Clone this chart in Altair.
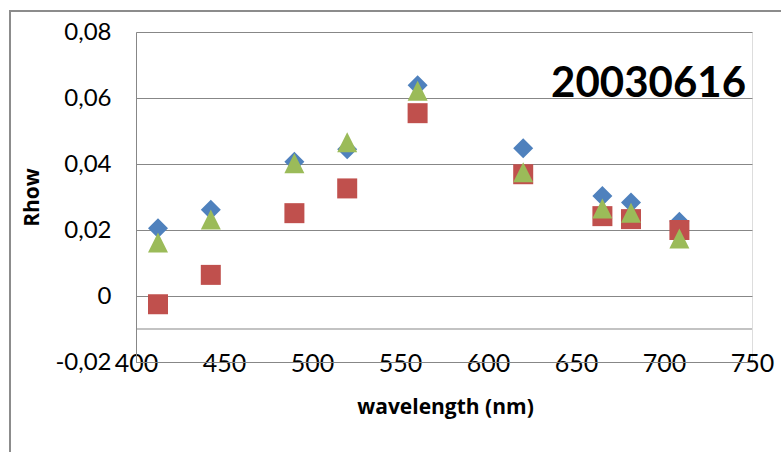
import altair as alt
import pandas as pd

wavelengths = [412.5, 442.5, 490, 520, 560, 620, 665, 681.25, 708.75]
series_a = [0.0205, 0.0261, 0.0407, 0.0445, 0.0639, 0.0448, 0.0303, 0.0283, 0.0225]
series_b = [-0.0025, 0.0064, 0.0251, 0.0326, 0.0554, 0.0369, 0.0242, 0.0233, 0.0200]
series_c = [0.0162, 0.0232, 0.0402, 0.0466, 0.0622, 0.0375, 0.0265, 0.0252, 0.0174]
series_names = ["A", "B", "C"]
series_colors = ["#4F81BD", "#C0504D", "#9BBB59"]
series_shapes = ["diamond", "square", "M0,-1L1,1L-1,1Z"]
y_ticks = [-0.02, 0, 0.02, 0.04, 0.06, 0.08]
x_ticks = [400, 450, 500, 550, 600, 650, 700, 750]
extra_grid = [-0.01]
chart_title = ["20030616"]

rows = []
for name, vals in zip(series_names, [series_a, series_b, series_c]):
    for w, v in zip(wavelengths, vals):
        rows.append({"wl": w, "rhow": v, "series": name})
df = pd.DataFrame(rows)
df["order"] = df["series"].map({n: i for i, n in enumerate(series_names)})

font = "Lato"
tfont = "Open Sans"
grid_color = "#878787"

xscale = alt.Scale(domain=[400, 750], nice=False, zero=False)
yscale = alt.Scale(domain=[-0.02, 0.08], nice=False, zero=False)

points = alt.Chart(df).mark_point(filled=True, size=400, opacity=1, strokeWidth=0).encode(
    x=alt.X("wl:Q", scale=xscale, axis=alt.Axis(
        values=x_ticks, title="wavelength (nm)", grid=False, ticks=False,
        labelFlush=False, labelOverlap=False,
        labelPadding=1, labelBaseline="middle", labelFont=font, labelFontSize=25,
        labelColor="#000000", domainColor=grid_color, domainWidth=1,
        titleFont=tfont, titleFontSize=21, titleFontWeight="bold", titleColor="#000000",
        titleY=45, titleBaseline="middle", titleX=309)),
    y=alt.Y("rhow:Q", scale=yscale, axis=alt.Axis(
        values=y_ticks, title="Rhow", grid=True, gridColor=grid_color, gridWidth=1,
        ticks=False, labelFlush=False, labelOverlap=False,
        labelPadding=25, labelFont=font, labelFontSize=24,
        labelColor="#000000", labelExpr="replace(toString(datum.value), '.', ',')",
        domainColor=grid_color, domainWidth=1,
        titleFont=tfont, titleFontSize=21, titleFontWeight="bold", titleColor="#000000",
        titleX=-104, titleY=165, titleAngle=-90, titleBaseline="middle")),
    color=alt.Color("series:N", scale=alt.Scale(domain=series_names, range=series_colors), legend=None),
    shape=alt.Shape("series:N", scale=alt.Scale(domain=series_names, range=series_shapes), legend=None),
    order=alt.Order("order:Q"),
)

extra = alt.Chart(pd.DataFrame({"y": extra_grid})).mark_rule(color=grid_color, strokeWidth=1).encode(
    y=alt.Y("y:Q", scale=yscale)
)

border = alt.Chart(pd.DataFrame({"a": [0]})).mark_rect(
    fill=None, stroke="#8c8c8c", strokeWidth=2, clip=False
).encode(x=alt.value(-126), y=alt.value(-21), x2=alt.value(700), y2=alt.value(500))

title = alt.Chart(pd.DataFrame({"t": chart_title})).mark_text(
    font=font, fontSize=42, fontWeight="bold", color="#000000",
    align="right", baseline="alphabetic"
).encode(text="t:N", x=alt.value(610), y=alt.value(65))

chart = alt.layer(border, extra, points, title).properties(
    width=616, height=330,
    autosize=alt.AutoSizeParams(type="none"),
    padding={"left": 136, "top": 32, "right": 29, "bottom": 90},
).configure_view(stroke=None).configure(background="#ffffff")

chart.save("out.html", embed_options={"renderer": "svg", "actions": False})
